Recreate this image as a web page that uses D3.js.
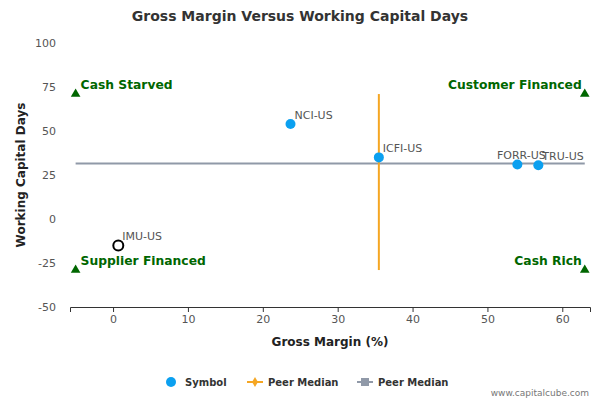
<!DOCTYPE html><html><head><script src="https://cdn.jsdelivr.net/npm/d3@7"></script>
<style>body{margin:0}text{font-family:"DejaVu Sans",sans-serif}</style></head><body><svg id="c" width="600" height="400"></svg>
<script>
const names=["NCI-US","ICFI-US","FORR-US","TRU-US"];
const gm=[23.7,35.5,54.0,56.8];
const wcd=[54,35,31,30.5];
const subject={name:"IMU-US",gm:0.7,wcd:-15};
const peerX=35.5, peerY=31.5;
const xTicks=[0,10,20,30,40,50,60], yTicks=[100,75,50,25,0,-25,-50];
const quads=[{t:"Cash Starved",x:-5,y:71,a:"start"},{t:"Customer Financed",x:63,y:71,a:"end"},{t:"Supplier Financed",x:-5,y:-29,a:"start"},{t:"Cash Rich",x:63,y:-29,a:"end"}];
const svg=d3.select("#c");
const x=d3.scaleLinear().domain([-5.75,63.7]).range([70,590]);
const y=d3.scaleLinear().domain([-50,100]).range([307,43]);
svg.append("text").attr("x",300).attr("y",21).attr("text-anchor","middle").attr("font-size",14).attr("font-weight","bold").attr("fill","#333").text("Gross Margin Versus Working Capital Days");
const ax=svg.append("g").attr("transform","translate(0,307)").call(d3.axisBottom(x).tickValues(xTicks).tickSize(5));
ax.select(".domain").attr("stroke","#333");ax.selectAll("line").attr("stroke","#333");
ax.selectAll("text").attr("fill","#555").attr("font-size",11);
yTicks.forEach(v=>svg.append("text").attr("x",56).attr("y",y(v)+4).attr("text-anchor","end").attr("font-size",11).attr("fill","#555").text(v));
svg.append("text").attr("x",330).attr("y",346).attr("text-anchor","middle").attr("font-size",12).attr("font-weight","bold").attr("fill","#222").text("Gross Margin (%)");
svg.append("text").attr("transform","translate(25,175) rotate(-90)").attr("text-anchor","middle").attr("font-size",12).attr("font-weight","bold").attr("fill","#222").text("Working Capital Days");
svg.append("line").attr("x1",x(-5)).attr("x2",x(63)).attr("y1",y(peerY)).attr("y2",y(peerY)).attr("stroke","#9099a8").attr("stroke-width",2);
svg.append("line").attr("x1",x(peerX)).attr("x2",x(peerX)).attr("y1",y(71)).attr("y2",y(-29)).attr("stroke","#f5a623").attr("stroke-width",2);
quads.forEach(q=>{
 svg.append("path").attr("d",d3.symbol(d3.symbolTriangle,40)()).attr("transform",`translate(${x(q.x)},${y(q.y)})`).attr("fill","#060");
 svg.append("text").attr("x",x(q.x)+(q.a=="start"?5:-3)).attr("y",y(q.y)-5).attr("text-anchor",q.a).attr("font-size",12.3).attr("font-weight","bold").attr("fill","#060").text(q.t);
});
names.forEach((n,i)=>{
 svg.append("circle").attr("cx",x(gm[i])).attr("cy",y(wcd[i])).attr("r",5).attr("fill","#0ba0f0");
 svg.append("text").attr("x",x(gm[i])+4).attr("y",y(wcd[i])-5).attr("font-size",11).attr("fill","#555").attr("text-anchor",n=="FORR-US"?"middle":"start").text(n);
});
svg.append("circle").attr("cx",x(subject.gm)).attr("cy",y(subject.wcd)).attr("r",5).attr("fill","#fff").attr("stroke","#000").attr("stroke-width",2);
svg.append("text").attr("x",x(subject.gm)+4).attr("y",y(subject.wcd)-5).attr("font-size",11).attr("fill","#555").text(subject.name);
const lg=svg.append("g").attr("font-size",10).attr("font-weight","bold").attr("fill","#333");
lg.append("circle").attr("cx",171).attr("cy",382).attr("r",5).attr("fill","#0ba0f0");
lg.append("text").attr("x",185).attr("y",386).text("Symbol");
lg.append("line").attr("x1",247).attr("x2",263).attr("y1",382).attr("y2",382).attr("stroke","#f5a623").attr("stroke-width",2);
lg.append("path").attr("d",d3.symbol(d3.symbolDiamond,30)()).attr("transform","translate(255,382)").attr("fill","#f5a623");
lg.append("text").attr("x",268).attr("y",386).text("Peer Median");
lg.append("line").attr("x1",357).attr("x2",373).attr("y1",382).attr("y2",382).attr("stroke","#9099a8").attr("stroke-width",2);
lg.append("rect").attr("x",361).attr("y",378).attr("width",8).attr("height",8).attr("fill","#9099a8");
lg.append("text").attr("x",378).attr("y",386).text("Peer Median");
svg.append("text").attr("x",589).attr("y",396).attr("text-anchor","end").attr("font-size",9).attr("fill","#777").text("www.capitalcube.com");
</script></body></html>
